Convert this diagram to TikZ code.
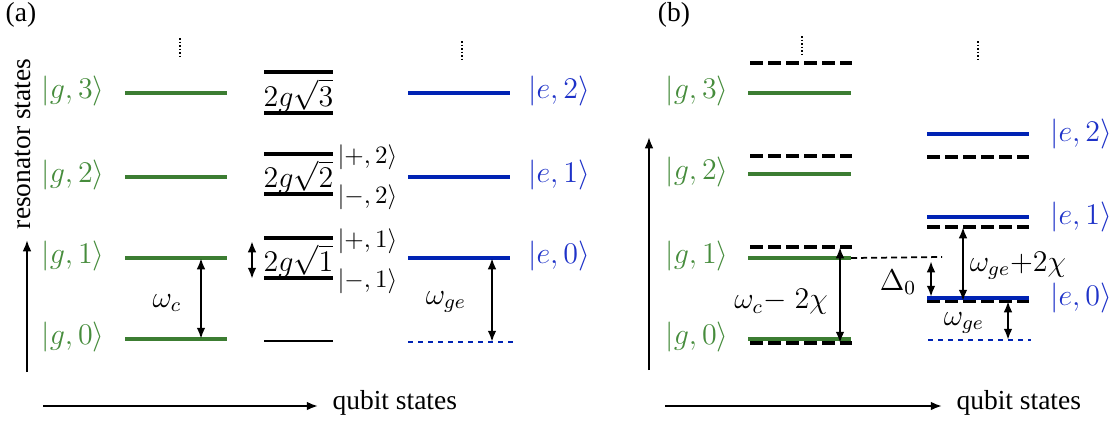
\documentclass[tikz,border=0pt]{standalone}
\usepackage{amsmath}
\usepackage[no-math]{fontspec}
\setmainfont{Liberation Serif}
\usetikzlibrary{arrows.meta, positioning, calc}
\definecolor{lvlgreen}{RGB}{60,125,50}
\definecolor{lvlblue}{RGB}{0,35,180}
\definecolor{txtgreen}{RGB}{70,140,60}
\definecolor{txtblue}{RGB}{30,50,200}
\tikzset{
    leveldiagram/.style={>={Latex[length=4.5pt,width=3.5pt]}, x=0.4pt, y=-0.4pt},
    glevel/.style={draw=lvlgreen, line width=1.6pt},
    elevel/.style={draw=lvlblue, line width=1.6pt},
    dressed/.style={draw=black, line width=1.6pt},
    shifted/.style={draw=black, line width=1.6pt, dash pattern=on 5.3pt off 1.9pt},
    bare/.style={draw=lvlblue, line width=0.7pt, dash pattern=on 2pt off 2pt},
    axis/.style={->, line width=0.8pt},
    gap/.style={<->, line width=0.9pt},
    more/.style={line width=0.7pt, dash pattern=on 0.7pt off 0.7pt},
    % state labels
    glabel/.style={text=txtgreen, inner sep=1pt, font=\fontsize{11.5}{14}\selectfont},
    elabel/.style={text=txtblue, inner sep=1pt, font=\fontsize{11.5}{14}\selectfont},
    mlabel/.style={font=\large},
    plabel/.style={anchor=west, inner sep=0pt, font=\normalsize},
    tlabel/.style={font=\fontsize{11}{13}\selectfont},
}
\begin{document}
\begin{tikzpicture}[leveldiagram]
    \useasboundingbox (0,0) rectangle (1117,421);

    % ---------------- (a) ----------------
    \node[tlabel] (taga) at (21,15) {(a)};
    \coordinate (ya0) at (27,372);
    \coordinate (ya1) at (27,240);
    \draw[axis] (ya0) -- (ya1);
    \node[tlabel, rotate=90] (resa) at (23,144) {resonator states};
    \coordinate (xa0) at (43,406);
    \coordinate (xa1) at (318,406);
    \draw[axis] (xa0) -- (xa1);
    \node[tlabel, anchor=west, inner sep=0pt] (quba) at (332,403) {qubit states};

    % uncoupled resonator levels, qubit in g
    \foreach \n/\y in {3/93, 2/177, 1/258, 0/339} {
        \coordinate (ga\n l) at (125,\y);
        \coordinate (ga\n r) at (227,\y);
        \draw[glevel] (ga\n l) -- (ga\n r);
        \node[glabel] (lga\n) at (73,\y-2) {$|g,\n\rangle$};
    }
    % uncoupled resonator levels, qubit in e
    \foreach \n/\y in {2/93, 1/177, 0/258} {
        \coordinate (ea\n l) at (408,\y);
        \coordinate (ea\n r) at (510,\y);
        \draw[elevel] (ea\n l) -- (ea\n r);
        \node[elabel] (lea\n) at (559,\y-2) {$|e,\n\rangle$};
    }
    \coordinate (eabl) at (408,342);
    \coordinate (eabr) at (513,342);
    \draw[bare] (eabl) -- (eabr);

    % dressed doublets
    \foreach \n/\yp/\ym in {3/72/113, 2/154/194, 1/238/278} {
        \coordinate (pa\n l) at (264,\yp);
        \coordinate (pa\n r) at (333,\yp);
        \coordinate (ma\n l) at (264,\ym);
        \coordinate (ma\n r) at (333,\ym);
        \draw[dressed] (pa\n l) -- (pa\n r);
        \draw[dressed] (ma\n l) -- (ma\n r);
        \node[mlabel, inner sep=0pt] (split\n) at ($(pa\n l)!0.5!(ma\n r)+(0,3)$) {$2g\sqrt{\n}$};
    }
    \coordinate (groundl) at (264,341);
    \coordinate (groundr) at (333,341);
    \draw[line width=0.8pt] (groundl) -- (groundr);
    \node[plabel] (plus2)  at (337,157) {$|{+},2\rangle$};
    \node[plabel] (minus2) at (337,197) {$|{-},2\rangle$};
    \node[plabel] (plus1)  at (337,241) {$|{+},1\rangle$};
    \node[plabel] (minus1) at (337,281) {$|{-},1\rangle$};
    \coordinate (sa0) at (252,241);
    \coordinate (sa1) at (252,279);
    \draw[gap] (sa0) -- (sa1);

    % transition frequencies
    \draw[gap] (ga1r -| 201,0) -- (ga0r -| 201,0);
    \node[mlabel] (wca) at (167,303) {$\omega_c$};
    \draw[gap] (ea0r -| 492,0) -- (eabr -| 492,0);
    \node[mlabel] (wgea) at (446,302) {$\omega_{ge}$};

    \coordinate (da0) at (180,38);
    \coordinate (da1) at (180,57);
    \draw[more] (da0) -- (da1);
    \coordinate (da2) at (462,41);
    \coordinate (da3) at (462,59);
    \draw[more] (da2) -- (da3);

    % ---------------- (b) ----------------
    \node[tlabel] (tagb) at (674,15) {(b)};
    \coordinate (yb0) at (649,370);
    \coordinate (yb1) at (649,137);
    \draw[axis] (yb0) -- (yb1);
    \coordinate (xb0) at (665,406);
    \coordinate (xb1) at (942,406);
    \draw[axis] (xb0) -- (xb1);
    \node[tlabel, anchor=west, inner sep=0pt] (qubb) at (956,403) {qubit states};

    % dispersively shifted levels
    \foreach \n/\y in {3/63, 2/156, 1/247, 0/343} {
        \coordinate (sg\n l) at (750,\y);
        \coordinate (sg\n r) at (852,\y);
        \draw[shifted] (sg\n l) -- (sg\n r);
    }
    \foreach \n/\y in {2/157, 1/227, 0/301} {
        \coordinate (se\n l) at (927,\y);
        \coordinate (se\n r) at (1029,\y);
        \draw[shifted] (se\n l) -- (se\n r);
    }
    \foreach \n/\y in {3/93, 2/174, 1/258, 0/339} {
        \coordinate (gb\n l) at (748,\y);
        \coordinate (gb\n r) at (851,\y);
        \draw[glevel] (gb\n l) -- (gb\n r);
        \node[glabel] (lgb\n) at (697,\y-2) {$|g,\n\rangle$};
    }
    \foreach \n/\y in {2/134, 1/217, 0/298} {
        \coordinate (eb\n l) at (927,\y);
        \coordinate (eb\n r) at (1029,\y);
        \draw[elevel] (eb\n l) -- (eb\n r);
        \node[elabel] (leb\n) at (1081,\y) {$|e,\n\rangle$};
    }
    \coordinate (ebbl) at (928,340);
    \coordinate (ebbr) at (1031,340);
    \draw[bare] (ebbl) -- (ebbr);

    % detuning
    \coordinate (detr) at (942,257);
    \draw[line width=0.7pt, dash pattern=on 2.4pt off 1.6pt] (gb1r) -- (detr);
    \draw[gap] (931,261) -- (931,297);
    \node[mlabel] (delta) at (898,282) {$\Delta_0$};

    % transition frequencies
    \draw[gap] (sg1r -| 840,0) -- (sg0r -| 840,0);
    \node[mlabel] (wcb) at (781,302) {$\omega_c{-}\;2\chi$};
    \draw[gap] (se1r -| 963,0) -- (se0r -| 963,0);
    \node[mlabel, inner sep=0.5pt] (wgeb) at (1018,266) {$\omega_{ge}{+}2\chi$};
    \draw[gap] (se0r -| 1008,0) -- (ebbr -| 1008,0);
    \node[mlabel] (wgec) at (964,323) {$\omega_{ge}$};

    \coordinate (db0) at (802,36);
    \coordinate (db1) at (802,55);
    \draw[more] (db0) -- (db1);
    \coordinate (db2) at (978,41);
    \coordinate (db3) at (978,59);
    \draw[more] (db2) -- (db3);
\end{tikzpicture}
\end{document}
